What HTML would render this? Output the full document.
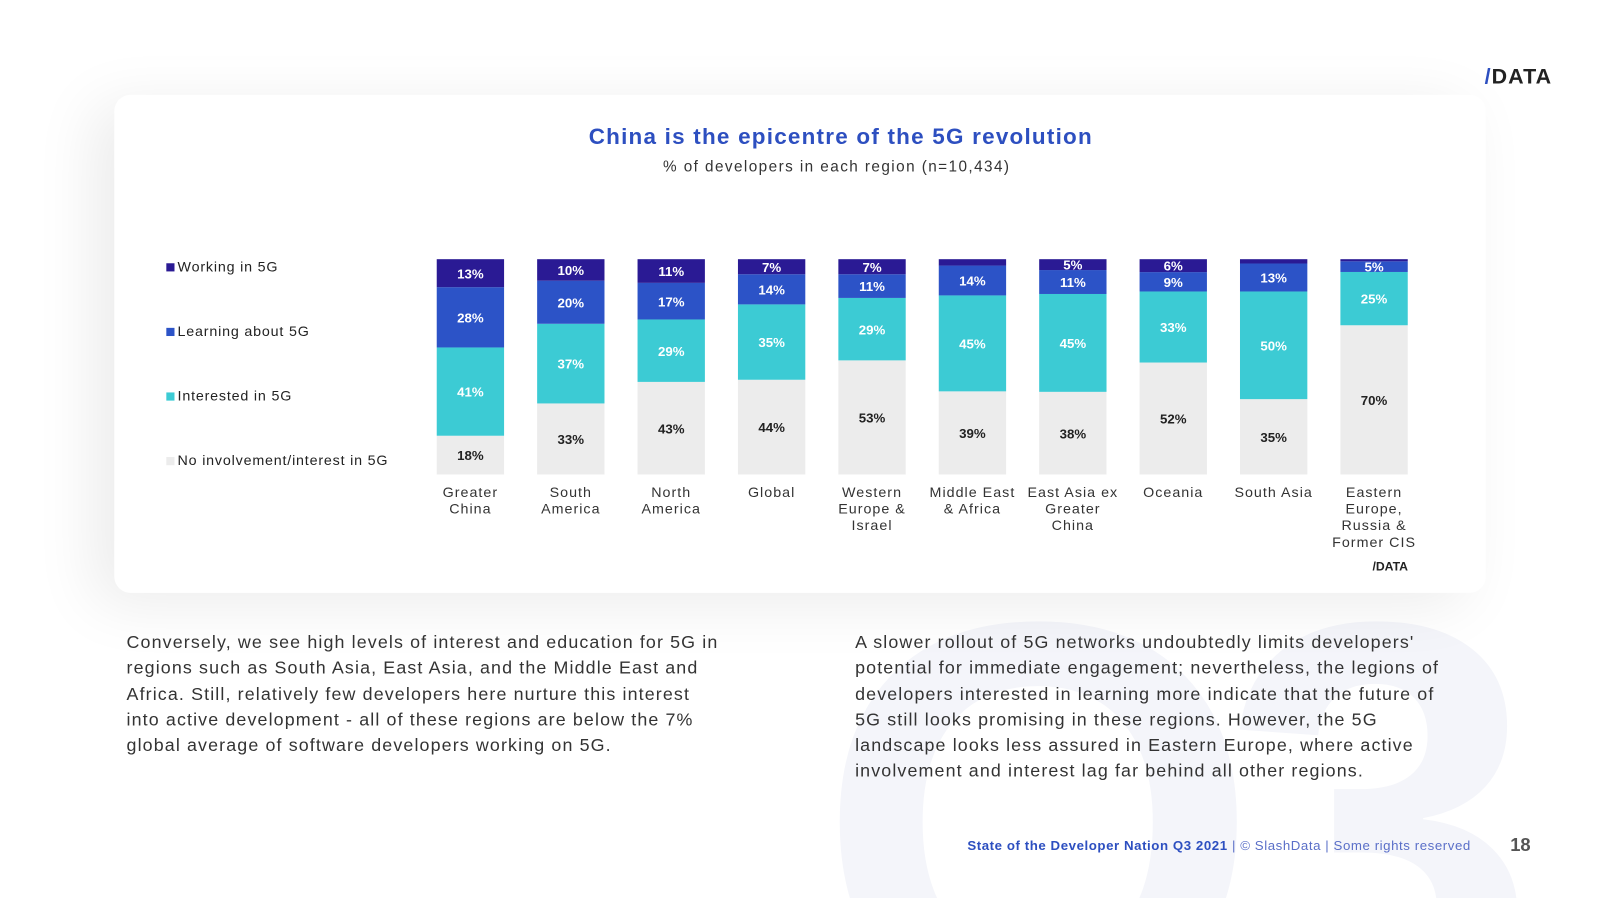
<!DOCTYPE html>
<html style="width:1600px;height:900px;overflow:hidden"><head><meta charset="utf-8"><style>
body{margin:0;width:1600px;height:900px;background:#fff;font-family:"Liberation Sans",sans-serif;position:relative;overflow:hidden}
#wrap{position:absolute;left:0;top:0;width:1568px;height:880px;transform:scale(1.0204);transform-origin:0 0;overflow:hidden}
.card{position:absolute;left:112px;top:93px;width:1344px;height:488px;background:#fff;border-radius:16px;box-shadow:-20px 10px 60px rgba(0,0,0,0.08)}
.t{position:absolute;left:40px;width:100%;text-align:center}
.p{position:absolute;font-size:17.5px;line-height:25.3px;color:#333;white-space:nowrap;letter-spacing:1.1px}
</style></head><body>
<div id="wrap">
<svg width="788" height="320" style="position:absolute;left:780px;top:560px"><text x="20" y="440" font-size="560" font-weight="bold" fill="#f4f5fa" letter-spacing="-40" font-family="Liberation Sans">Q3</text></svg>
<div style="position:absolute;left:1455px;top:64px;font-size:21px;font-weight:bold;letter-spacing:1px;color:#222"><span style="color:#2d4fc0">/</span>DATA</div>
<div class="card">
<div class="t" style="top:28px;font-size:22px;font-weight:bold;color:#2d4fc0;letter-spacing:1.2px">China is the epicentre of the 5G revolution</div>
<div class="t" style="top:62px;font-size:15px;color:#333;letter-spacing:1.4px;left:36px">% of developers in each region (n=10,434)</div>
</div>
<svg id="ch" width="1568" height="880" style="position:absolute;left:0;top:0"></svg>
<div class="p" style="left:124px;top:617px">Conversely, we see high levels of interest and education for 5G in<br>regions such as South Asia, East Asia, and the Middle East and<br>Africa. Still, relatively few developers here nurture this interest<br>into active development - all of these regions are below the 7%<br>global average of software developers working on 5G.</div>
<div class="p" style="left:838px;top:617px">A slower rollout of 5G networks undoubtedly limits developers'<br>potential for immediate engagement; nevertheless, the legions of<br>developers interested in learning more indicate that the future of<br>5G still looks promising in these regions. However, the 5G<br>landscape looks less assured in Eastern Europe, where active<br>involvement and interest lag far behind all other regions.</div>
<div style="position:absolute;left:948px;top:821px;font-size:13px;color:#2d4fc0;letter-spacing:0.55px"><b>State of the Developer Nation Q3 2021</b> <span style="color:#5a6fc8">| © SlashData | Some rights reserved</span></div>
<div style="position:absolute;left:1480px;top:818px;font-size:18px;font-weight:bold;color:#555">18</div>
</div>
<script>
const categories=[["Greater","China"],["South","America"],["North","America"],["Global"],["Western","Europe &","Israel"],["Middle East","& Africa"],["East Asia ex","Greater","China"],["Oceania"],["South Asia"],["Eastern","Europe,","Russia &","Former CIS"]];
const noInvolvement=[18,33,43,44,53,39,38,52,35,70];
const interested=[41,37,29,35,29,45,45,33,50,25];
const learning=[28,20,17,14,11,14,11,9,13,5];
const working=[13,10,11,7,7,3,5,6,2,1];
const seriesNames=["No involvement/interest in 5G","Interested in 5G","Learning about 5G","Working in 5G"];
const colors=["#ececec","#3ccbd4","#2c53c7","#2a1a94"];
const textCol=["#222","#fff","#fff","#fff"];
const svg=document.getElementById('ch');const NS="http://www.w3.org/2000/svg";
const top0=254,bot=465,x0=461,step=98.4,bw=66;
const xs=i=>x0+i*step;
function mk(t,a){const e=document.createElementNS(NS,t);for(const k in a)e.setAttribute(k,a[k]);svg.appendChild(e);return e;}
const series=[noInvolvement,interested,learning,working];
categories.forEach((c,i)=>{
 const tot=series.reduce((s,a)=>s+a[i],0);let y=bot;
 series.forEach((a,j)=>{
  const h=a[i]/tot*(bot-top0);y-=h;
  const r=mk('rect',{x:xs(i)-bw/2,y:y,width:bw,height:h,fill:colors[j]});
  
  
  if(a[i]>=5){const t=mk('text',{x:xs(i),y:y+h/2+5,'text-anchor':'middle','font-size':13,'font-weight':'bold',fill:textCol[j],'font-family':'Liberation Sans'});t.textContent=a[i]+'%';
  
  }
 });
 c.forEach((l,k)=>{const t=mk('text',{x:xs(i),y:487+k*16.3,'text-anchor':'middle','font-size':14,fill:'#333','letter-spacing':'1','font-family':'Liberation Sans'});t.textContent=l;
 
 });
});
[3,2,1,0].forEach((j,k)=>{const y=261+k*63.3;
 const r=mk('rect',{x:163,y:y-3,width:8,height:8,fill:colors[j]});
 
 
 const t=mk('text',{x:174,y:y+5,'font-size':14,fill:'#222','letter-spacing':'0.8','font-family':'Liberation Sans'});t.textContent=seriesNames[j];
 
 });
const lg=mk('text',{x:1345,y:559,'font-size':12,'font-weight':'bold',fill:'#222','font-family':'Liberation Sans'});lg.textContent='/DATA';


</script>
</body></html>
